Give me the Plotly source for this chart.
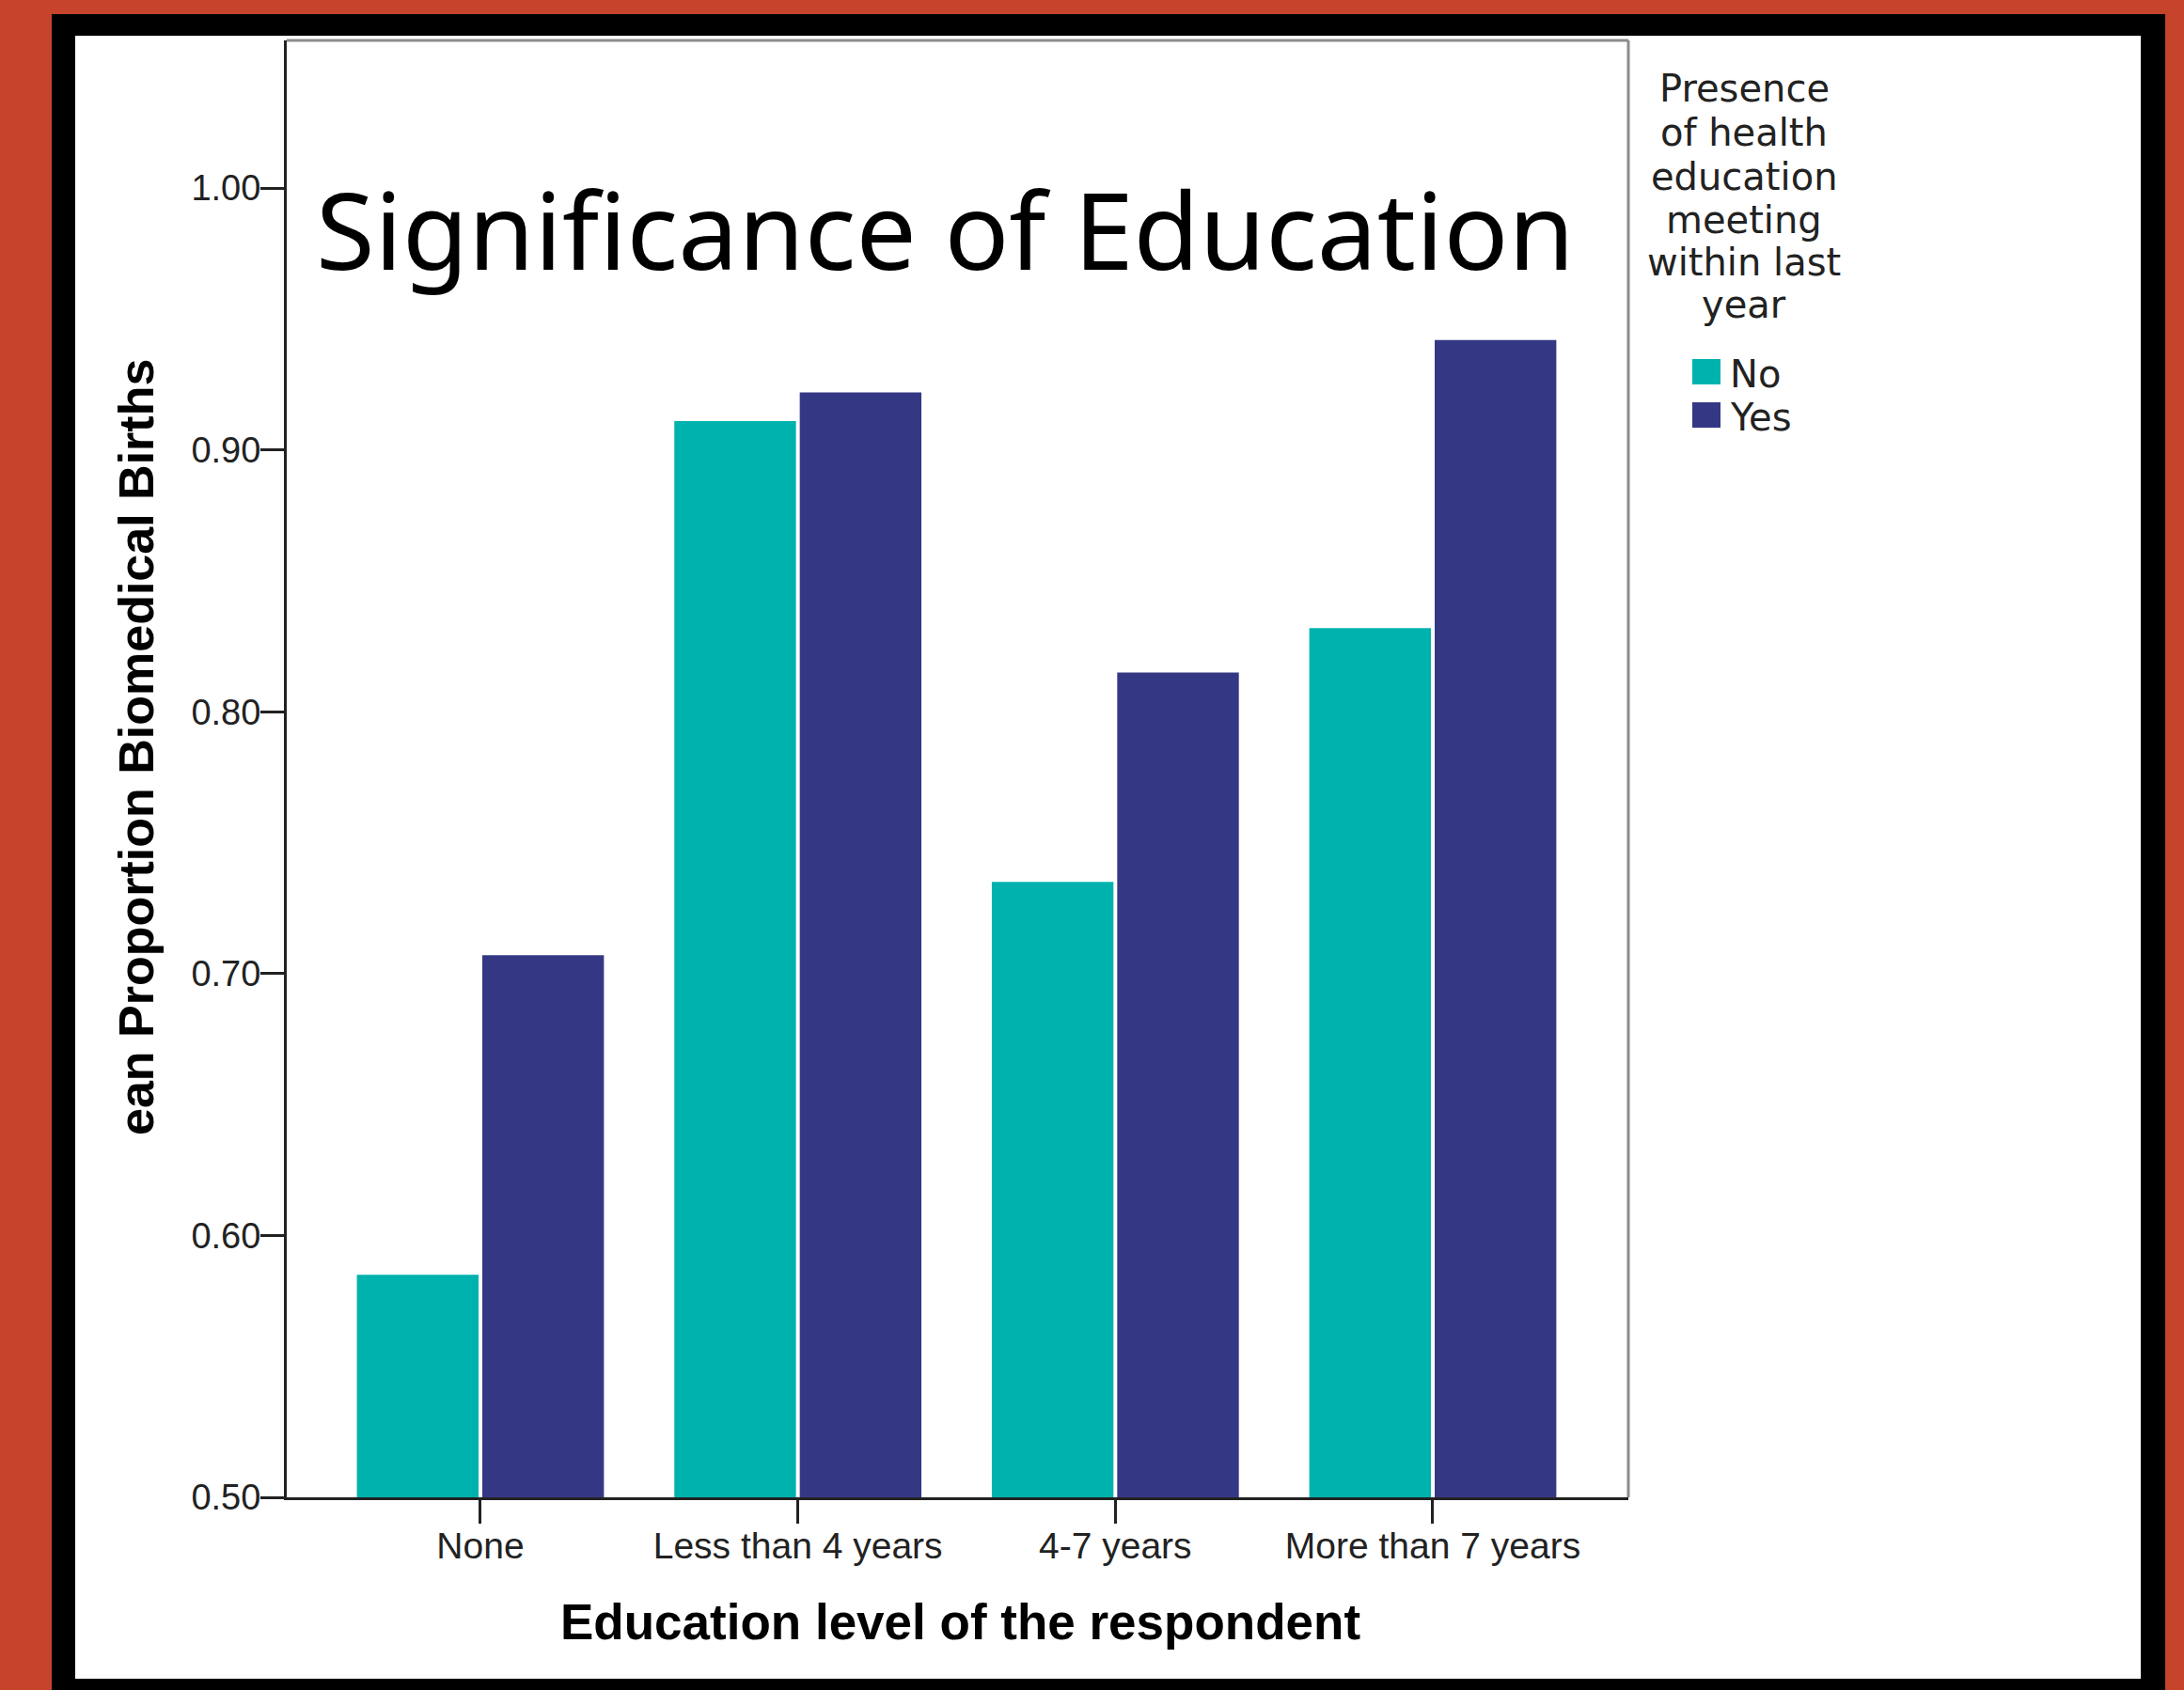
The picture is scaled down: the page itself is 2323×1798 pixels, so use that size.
import plotly.graph_objects as go

# ---- data ----
categories = ["None", "Less than 4 years", "4-7 years", "More than 7 years"]
series_names = ["No", "Yes"]
values_no = [0.585, 0.911, 0.735, 0.832]
values_yes = [0.707, 0.922, 0.815, 0.942]
y_tickvals = [0.50, 0.60, 0.70, 0.80, 0.90, 1.00]
legend_title_lines = ["Presence", "of health", "education", "meeting", "within last", "year"]
chart_title = "Significance of Education"
x_title = "Education level of the respondent"
y_title = "ean Proportion Biomedical Births"

# ---- styles ----
W, H = 2323, 1798
L, R, T, B = 305, 1732, 43, 1593
TEAL = "#00B2AE"
NAVY = "#343884"
RED_BG = "#C5442B"
TXT = "#222222"


def px(x):
    return (x - L) / (R - L)


def py(y):
    return (B - y) / (B - T)


fig = go.Figure()
fig.add_trace(go.Bar(x=categories, y=values_no, name=series_names[0],
                     marker=dict(color=TEAL, line=dict(width=0))))
fig.add_trace(go.Bar(x=categories, y=values_yes, name=series_names[1],
                     marker=dict(color=NAVY, line=dict(width=0))))

shapes = [
    # rough black frame and white panel
    dict(type="rect", xref="paper", yref="paper", x0=px(55), x1=px(2303), y0=py(1830), y1=py(15),
         fillcolor="black", line=dict(width=0), layer="below"),
    dict(type="rect", xref="paper", yref="paper", x0=px(80), x1=px(2277), y0=py(1786), y1=py(38),
         fillcolor="white", line=dict(width=0), layer="below"),
    # top and right frame lines of plot box
    dict(type="line", xref="paper", yref="paper", x0=0, x1=1, y0=1, y1=1,
         line=dict(color="#8c8c8c", width=3), layer="above"),
    dict(type="line", xref="paper", yref="paper", x0=1, x1=1, y0=0, y1=1,
         line=dict(color="#8c8c8c", width=3), layer="above"),
    # legend swatches
    dict(type="rect", xref="paper", yref="paper", x0=px(1800), x1=px(1830), y0=py(409), y1=py(382),
         fillcolor=TEAL, line=dict(width=0)),
    dict(type="rect", xref="paper", yref="paper", x0=px(1800), x1=px(1830), y0=py(455), y1=py(428),
         fillcolor=NAVY, line=dict(width=0)),
]

annotations = [
    dict(text=chart_title, xref="paper", yref="paper", x=px(334), y=py(242),
         xanchor="left", yanchor="middle", showarrow=False,
         font=dict(family="Noto Sans", size=114, color="black")),
    dict(text=x_title, xref="paper", yref="paper", x=px(1021), y=py(1726),
         xanchor="center", yanchor="middle", showarrow=False,
         font=dict(family="Liberation Sans", size=53, color="black", weight="bold")),
    dict(text=y_title, xref="paper", yref="paper", x=px(145), y=py(795),
         xanchor="center", yanchor="middle", showarrow=False, textangle=-90,
         font=dict(family="Liberation Sans", size=52, color="black", weight="bold")),
]

title_centers = [94, 141, 188, 234, 279, 324]
for line, cy in zip(legend_title_lines, title_centers):
    annotations.append(dict(text=line, xref="paper", yref="paper", x=px(1855), y=py(cy),
                            xanchor="center", yanchor="middle", showarrow=False,
                            font=dict(family="DejaVu Sans", size=40, color=TXT)))
for name, cy in zip(series_names, [398, 444]):
    annotations.append(dict(text=name, xref="paper", yref="paper", x=px(1838), y=py(cy),
                            xanchor="left", yanchor="middle", showarrow=False,
                            font=dict(family="DejaVu Sans", size=40, color=TXT)))

fig.update_layout(
    width=W, height=H,
    margin=dict(l=L, r=W - R, t=T, b=H - B, pad=0),
    paper_bgcolor=RED_BG, plot_bgcolor="white",
    barmode="group", bargap=0.21, bargroupgap=0.03,
    showlegend=False,
    shapes=shapes, annotations=annotations,
    xaxis=dict(range=[-0.61, 3.616], showline=True, linecolor="#222222", linewidth=3,
               ticks="outside", ticklen=25, tickwidth=3, tickcolor="#222222",
               showgrid=False, zeroline=False, ticklabelstandoff=-10,
               tickfont=dict(family="Liberation Sans", size=39, color=TXT)),
    yaxis=dict(range=[0.5, 1.0564], showline=True, linecolor="#222222", linewidth=3,
               ticks="outside", ticklen=25, tickwidth=3, tickcolor="#222222",
               tickvals=y_tickvals, tickformat=".2f", ticklabelstandoff=-8,
               showgrid=False, zeroline=False,
               tickfont=dict(family="Liberation Sans", size=38, color=TXT)),
)

fig.write_html("out.html")
